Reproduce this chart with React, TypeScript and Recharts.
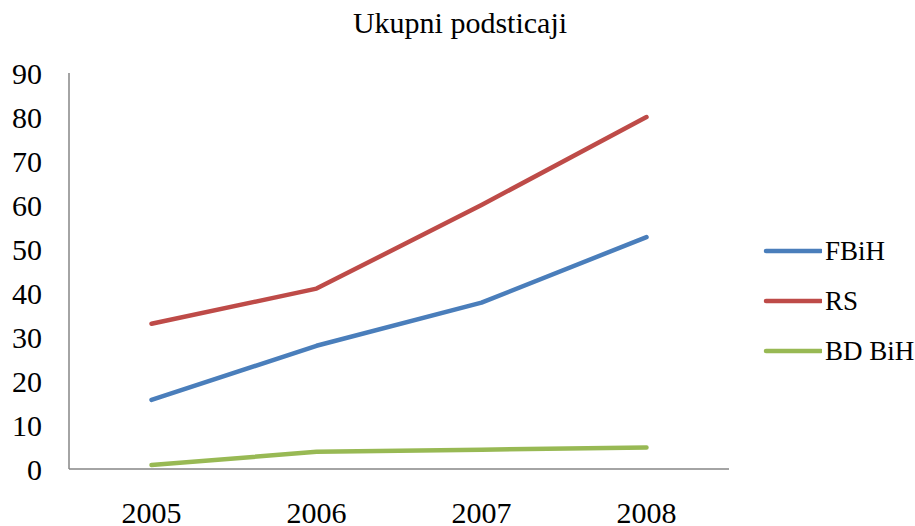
import React from 'react';
import { LineChart, Line, XAxis, YAxis, Legend } from 'recharts';

const years = ['2005', '2006', '2007', '2008'];
const fbih = [15.7, 28, 37.8, 52.7];
const rs = [33, 41, 60, 80];
const bdbih = [0.9, 3.9, 4.4, 4.9];
const yTicks = [0, 10, 20, 30, 40, 50, 60, 70, 80, 90];

const seriesNames = ['FBiH', 'RS', 'BD BiH'];
const seriesColors = ['#4A7EBB', '#BE4B48', '#98B954'];

const data = years.map((y, i) => ({ year: y, FBiH: fbih[i], RS: rs[i], 'BD BiH': bdbih[i] }));

const FONT = 'Liberation Serif';

const LegendContent = (props: any) => {
  const payload = [...(props.payload || [])].sort(
    (a: any, b: any) => seriesNames.indexOf(a.value) - seriesNames.indexOf(b.value)
  );
  return (
    <div style={{ fontFamily: FONT, fontSize: 27, color: '#000' }}>
      {payload.map((p: any) => (
        <div key={p.value} style={{ display: 'flex', alignItems: 'center', height: 50 }}>
          <svg width={62} height={10} style={{ display: 'block' }}>
            <line x1={6} y1={5} x2={61} y2={5} stroke={p.color} strokeWidth={4.5} strokeLinecap="round" />
          </svg>
          <span style={{ marginLeft: 3, lineHeight: '30px', fontFamily: FONT }}>{p.value}</span>
        </div>
      ))}
    </div>
  );
};

export default function App() {
  return (
    <div
      style={{
        position: 'absolute',
        left: 0,
        top: 0,
        width: 915,
        height: 526,
        background: '#fff',
        fontFamily: FONT,
      }}
    >
      <div
        style={{
          position: 'absolute',
          left: 0,
          width: 920,
          top: 6,
          textAlign: 'center',
          fontFamily: FONT,
          fontSize: 30,
          color: '#000',
          whiteSpace: 'nowrap',
        }}
      >
        Ukupni podsticaji
      </div>
      <LineChart
        width={915}
        height={526}
        data={data}
        margin={{ top: 73, right: 186, left: 0, bottom: 0 }}
        style={{ position: 'absolute', left: 0, top: 0, fontFamily: FONT }}
      >
        <XAxis
          dataKey="year"
          height={57}
          padding={{ left: 82.5, right: 82.5 }}
          tickLine={false}
          tickSize={0}
          tickMargin={33}
          axisLine={{ stroke: '#868686', strokeWidth: 1.5 }}
          tick={{ fill: '#000', fontSize: 30, fontFamily: FONT }}
          interval={0}
        />
        <YAxis
          width={69}
          domain={[0, 90]}
          ticks={yTicks}
          interval={0}
          tickLine={false}
          tickSize={0}
          tickMargin={27}
          axisLine={{ stroke: '#868686', strokeWidth: 1.5 }}
          tick={{ fill: '#000', fontSize: 30, fontFamily: FONT }}
        />
        <Legend
          layout="horizontal"
          verticalAlign="middle"
          align="center"
          content={<LegendContent />}
          wrapperStyle={{ left: 760, top: 226, width: 155 }}
        />
        {seriesNames.map((name, i) => (
          <Line
            key={name}
            dataKey={name}
            name={name}
            stroke={seriesColors[i]}
            strokeWidth={4.5}
            strokeLinecap="round"
            strokeLinejoin="round"
            dot={false}
            activeDot={false}
            isAnimationActive={false}
          />
        ))}
      </LineChart>
    </div>
  );
}
